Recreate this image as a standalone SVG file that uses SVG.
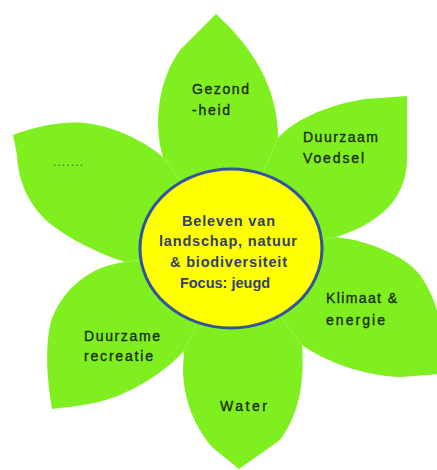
<svg xmlns="http://www.w3.org/2000/svg" width="437" height="470" viewBox="0 0 437 470">
<style>
.petal{fill:#80ef1f;stroke:none}
.pt{font-family:"Liberation Sans",Arial,sans-serif;font-size:14px;fill:#1c2c0c;stroke:#1c2c0c;stroke-width:0.35px}
.ct{font-family:"Liberation Sans",Arial,sans-serif;font-size:14.5px;font-weight:bold;fill:#34406e}
</style>
<rect width="437" height="470" fill="#ffffff"/>
<g id="petal-gezondheid">
<path class="petal" d="M163,157 C153,125 158,80 180,50 L216,14 C250,45 278,85 278,138 L231,248 Z"/>
<text class="pt" x="192" y="93.5" textLength="57" lengthAdjust="spacing">Gezond</text>
<text class="pt" x="192" y="114.5" textLength="38" lengthAdjust="spacing">-heid</text>
</g>
<g id="petal-voedsel">
<path class="petal" d="M278,138 C292,122 322,106 365,99 L407,96 L407,158 C407,190 390,220 336,237 L231,248 Z"/>
<text class="pt" x="303" y="141.5" textLength="75" lengthAdjust="spacing">Duurzaam</text>
<text class="pt" x="303" y="162.5" textLength="61" lengthAdjust="spacing">Voedsel</text>
</g>
<g id="petal-klimaat">
<path class="petal" d="M336,237 C370,241 405,256 420,275 C432,292 438,310 440,325 L440,374 L400,377 C370,376 330,365 302,345 L231,248 Z"/>
<text class="pt" x="326" y="303" textLength="71" lengthAdjust="spacing">Klimaat &amp;</text>
<text class="pt" x="326" y="325" textLength="59" lengthAdjust="spacing">energie</text>
</g>
<g id="petal-water">
<path class="petal" d="M302,345 C304,375 302,410 280,440 L239,469 L213,448 C195,428 183,400 183,368 L184,351 L231,248 Z"/>
<text class="pt" x="220" y="410.5" textLength="47" lengthAdjust="spacing">Water</text>
</g>
<g id="petal-recreatie">
<path class="petal" d="M184,351 C170,366 150,382 120,395 C100,403 80,406 52,409 C47,380 45,350 50,325 C60,290 90,266 125,262 L231,248 Z"/>
<text class="pt" x="84" y="340.5" textLength="76" lengthAdjust="spacing">Duurzame</text>
<text class="pt" x="84" y="361" textLength="69" lengthAdjust="spacing">recreatie</text>
</g>
<g id="petal-dots">
<path class="petal" d="M125,262 C100,254 70,240 48,222 C28,204 18,180 17,155 L13,135 C35,127 60,121 85,123 C115,126 145,142 163,157 L231,248 Z"/>
<text class="pt" x="53" y="166" textLength="30" lengthAdjust="spacing" style="fill:#4a6335;stroke:none;font-size:12px">.......</text>
</g>
<g id="center">
<ellipse cx="231" cy="248.5" rx="91" ry="79.5" fill="#ffff00" stroke="#3153a0" stroke-width="3"/>
<text class="ct" x="182" y="225.5" textLength="93" lengthAdjust="spacing">Beleven van</text>
<text class="ct" x="159" y="246" textLength="138" lengthAdjust="spacing">landschap, natuur</text>
<text class="ct" x="170" y="266.5" textLength="117" lengthAdjust="spacing">&amp; biodiversiteit</text>
<text class="ct" x="225" y="287.5" text-anchor="middle">Focus: jeugd</text>
</g>
<g id="connectors"/>
</svg>
